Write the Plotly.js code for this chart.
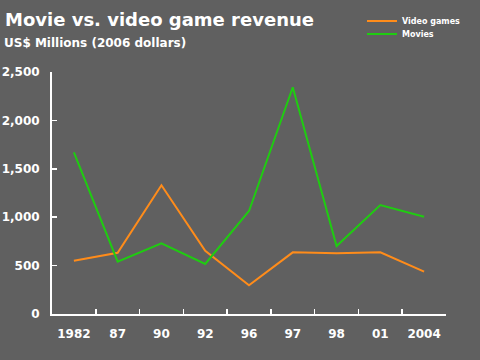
<!DOCTYPE html>
<html>
<head>
<meta charset="utf-8">
<script src="https://cdn.plot.ly/plotly-3.0.1.min.js"></script>
<style>
html,body{margin:0;padding:0;background:#606060;}
#chart{width:480px;height:360px;}
</style>
</head>
<body>
<div id="chart"></div>
<script>
const years = ["1982", "87", "90", "92", "96", "97", "98", "01", "2004"];
const videoGames = [551, 633, 1330, 654, 296, 637, 627, 637, 437];
const movies = [1670, 540, 730, 517, 1064, 2342, 702, 1126, 1005];
const yTicks = [0, 500, 1000, 1500, 2000, 2500];
const yTickLabels = ["0", "500", "1,000", "1,500", "2,000", "2,500"];

const FONT = "DejaVu Sans, Verdana, sans-serif";
const BG = "#606060";

const traces = [
  {
    x: years, y: videoGames, type: "scatter", mode: "lines", name: "Video games",
    line: {color: "#ff8c1a", width: 2}, legend: "legend"
  },
  {
    x: years, y: movies, type: "scatter", mode: "lines", name: "Movies",
    line: {color: "#1fcc11", width: 2}, legend: "legend2"
  }
];

const legendCommon = {
  font: {family: FONT, size: 8, color: "#ffffff", weight: "bold"},
  bgcolor: "rgba(0,0,0,0)",
  xref: "container", yref: "container",
  xanchor: "left", yanchor: "middle",
  itemwidth: 30, borderwidth: 0
};

const layout = {
  width: 480, height: 360,
  paper_bgcolor: BG, plot_bgcolor: BG,
  margin: {l: 52, r: 34, t: 72, b: 46, autoexpand: false},
  title: {
    text: "<b>Movie vs. video game revenue</b>",
    font: {family: FONT, size: 18, color: "#ffffff"},
    x: 5/480, xref: "container", xanchor: "left",
    y: 1 - 20/360, yref: "container", yanchor: "middle"
  },
  annotations: [{
    text: "<b>US$ Millions (2006 dollars)</b>",
    font: {family: FONT, size: 12, color: "#ffffff"},
    xref: "paper", yref: "paper",
    x: (5 - 52 - 3)/394, y: (314 - 43)/242,
    xanchor: "left", yanchor: "middle", showarrow: false
  }],
  showlegend: true,
  legend: Object.assign({}, legendCommon, {x: 362/480, y: 1 - 21/360}),
  legend2: Object.assign({}, legendCommon, {x: 362/480, y: 1 - 34/360}),
  xaxis: {
    type: "category",
    range: [-0.5, 8.5],
    tickangle: 0,
    showgrid: false, zeroline: false,
    showline: true, linecolor: "#ffffff", linewidth: 2,
    ticks: "inside", tickson: "boundaries", ticklen: 5, tickwidth: 1.5, tickcolor: "#ffffff",
    tickfont: {family: FONT, size: 12, color: "#ffffff", weight: "bold"},
    ticklabelstandoff: 8,
    fixedrange: true
  },
  yaxis: {
    range: [0, 2500],
    tickvals: yTicks, ticktext: yTickLabels,
    showgrid: false, zeroline: false,
    showline: true, linecolor: "#ffffff", linewidth: 2,
    ticks: "inside", ticklen: 5, tickwidth: 1.5, tickcolor: "#ffffff",
    tickfont: {family: FONT, size: 12, color: "#ffffff", weight: "bold"},
    ticklabelstandoff: 8,
    fixedrange: true
  }
};

Plotly.newPlot("chart", traces, layout, {displayModeBar: false, staticPlot: true});
</script>
</body>
</html>
